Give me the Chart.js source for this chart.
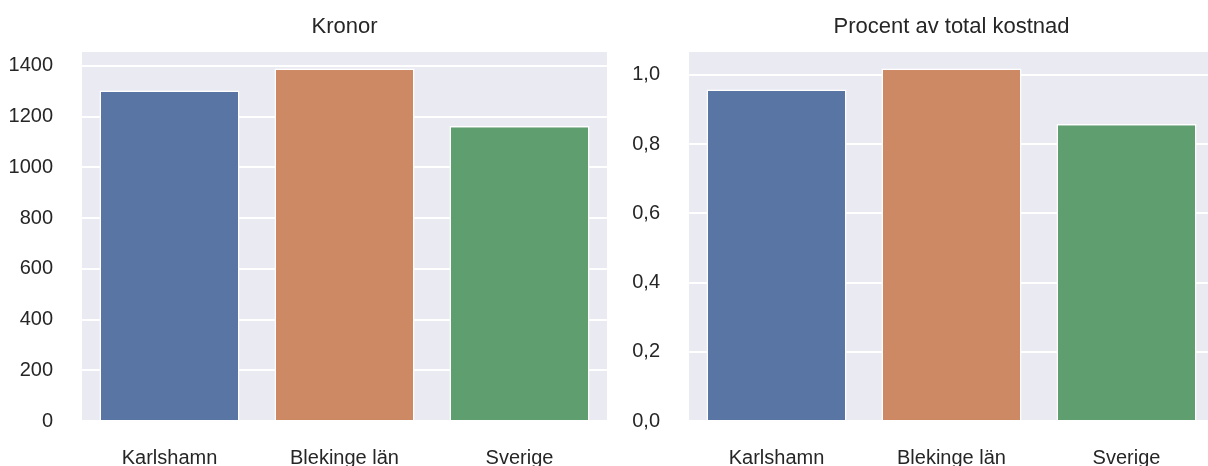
<!DOCTYPE html>
<html>
<head>
<meta charset="utf-8">
<script src="https://cdn.jsdelivr.net/npm/chart.js@4"></script>
<style>
  html, body { margin: 0; padding: 0; background: #ffffff; overflow: hidden; width: 1208px; height: 466px; }
  #wrap { position: relative; width: 1208px; height: 466px; overflow: hidden; }
  canvas { position: absolute; top: 0; }
  #c1 { left: 0px; }
  #c2 { left: 615px; }
</style>
</head>
<body>
<div id="wrap">
  <canvas id="c1" width="615" height="466"></canvas>
  <canvas id="c2" width="673" height="466"></canvas>
</div>
<script>
// ---- Data ----
const categories = ['Karlshamn', 'Blekinge län', 'Sverige'];
const kronorValues = [1303, 1390, 1163];
const procentValues = [0.958, 1.018, 0.858];
const kronorTicks = [0, 200, 400, 600, 800, 1000, 1200, 1400];
const kronorTickLabels = ['0', '200', '400', '600', '800', '1000', '1200', '1400'];
const procentTicks = [0.0, 0.2, 0.4, 0.6, 0.8, 1.0];
const procentTickLabels = ['0,0', '0,2', '0,4', '0,6', '0,8', '1,0'];
const barColors = ['#5975a4', '#cc8963', '#5f9e6e'];
const titles = ['Kronor', 'Procent av total kostnad'];

const FONT = "'Liberation Sans', Arial, sans-serif";
const TEXT = '#262626';

const bgPlugin = {
  id: 'areaBg',
  beforeDraw(chart) {
    const a = chart.chartArea, ctx = chart.ctx;
    ctx.save();
    ctx.fillStyle = '#eaeaf2';
    ctx.fillRect(a.left, a.top, a.right - a.left, a.bottom - a.top);
    ctx.restore();
  }
};

const titlePlugin = {
  id: 'areaTitle',
  afterDraw(chart, args, opts) {
    const a = chart.chartArea, ctx = chart.ctx;
    ctx.save();
    ctx.fillStyle = TEXT;
    ctx.font = '22px ' + FONT;
    ctx.textAlign = 'center';
    ctx.textBaseline = 'alphabetic';
    ctx.fillText(opts.text, (a.left + a.right) / 2, 33);
    ctx.restore();
  }
};

function makeChart(id, title, values, ticks, tickLabels, yMax, yAxisWidth, padRight) {
  return new Chart(document.getElementById(id), {
    type: 'bar',
    data: {
      labels: categories,
      datasets: [{
        data: values,
        backgroundColor: barColors,
        borderColor: '#ffffff',
        borderWidth: 1.5,
        barPercentage: 0.8,
        categoryPercentage: 1.0
      }]
    },
    options: {
      responsive: false,
      animation: false,
      devicePixelRatio: 1,
      layout: { padding: { left: 0, right: padRight, top: 52, bottom: 0 } },
      plugins: {
        legend: { display: false },
        tooltip: { enabled: false },
        title: { display: false },
        areaTitle: { text: title }
      },
      scales: {
        x: {
          grid: { display: false, drawTicks: false },
          border: { display: false },
          ticks: { color: TEXT, font: { family: FONT, size: 20 }, padding: 25, maxRotation: 0 },
          afterFit(scale) { scale.height = 45; }
        },
        y: {
          min: 0,
          max: yMax,
          grid: { color: '#ffffff', lineWidth: 2, drawTicks: false },
          border: { display: false },
          afterBuildTicks(scale) { scale.ticks = ticks.map(v => ({ value: v })); },
          ticks: {
            color: TEXT,
            font: { family: FONT, size: 20 },
            padding: 29,
            callback: (v, i) => tickLabels[i]
          },
          afterFit(scale) { scale.width = yAxisWidth; }
        }
      }
    },
    plugins: [bgPlugin, titlePlugin]
  });
}

makeChart('c1', titles[0], kronorValues, kronorTicks, kronorTickLabels, 1455, 82, 8);
makeChart('c2', titles[1], procentValues, procentTicks, procentTickLabels, 1.066, 74, 74);
</script>
</body>
</html>
